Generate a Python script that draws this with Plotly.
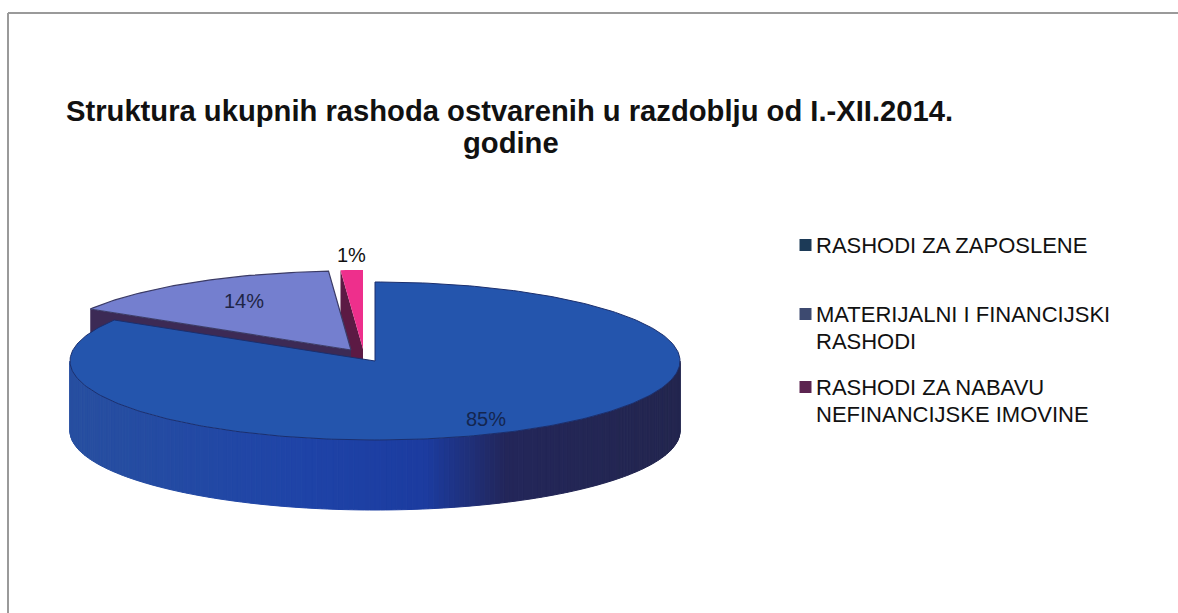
import math
import plotly.graph_objects as go

# ---- data ----
categories = [["RASHODI ZA ZAPOSLENE"], ["MATERIJALNI I FINANCIJSKI", "RASHODI"], ["RASHODI ZA NABAVU", "NEFINANCIJSKE IMOVINE"]]
values = [85, 14, 1]
value_labels = ["85%", "14%", "1%"]
title_lines = ["Struktura ukupnih rashoda ostvarenih u razdoblju od I.-XII.2014.", "godine"]

# ---- styling / geometry of the tilted pie ----
W, H = 1178, 613
CX, CY, RX, RY, DEPTH = 375, 361, 305, 79, 70
WARP = 5.0
offsets = [(0, 0), (-24, -11), (-12, -12)]
face_colors = ["#2455ad", "#747fcf", "#ee2f8c"]
wall_colors = ["#23264f", "#3c2a55", "#5c1a44"]
legend_colors = ["#1c3a57", "#3d4a70", "#5c2450"]
legend_y = [245, 314, 387]
LEGEND_LINE = 27
label_pos = [(486, 419), (244, 301), (351, 255)]
title_pos = [(509, 111), (511, 143)]


def phi(theta):
    return theta + WARP * math.sin(math.radians(2 * theta))


def pt(angle, off, drop=0):
    a = math.radians(angle)
    return CX + off[0] + RX * math.sin(a), CY + off[1] - RY * math.cos(a) + drop


def wedge(a0, a1, off):
    n = max(2, int(abs(a1 - a0)))
    xs, ys = [CX + off[0]], [CY + off[1]]
    for i in range(n + 1):
        x, y = pt(a0 + (a1 - a0) * i / n, off)
        xs.append(x)
        ys.append(y)
    xs.append(xs[0])
    ys.append(ys[0])
    return xs, ys


def poly(xs, ys, fill, line=None, width=0):
    return go.Scatter(x=xs, y=ys, mode="lines", fill="toself", fillcolor=fill,
                      line=dict(color=line or fill, width=width), hoverinfo="skip", showlegend=False)


def lerp_color(x):
    stops = [(70, (40, 80, 160)), (300, (31, 68, 168)), (425, (28, 60, 160)), (505, (35, 38, 90)), (680, (35, 38, 79))]
    for (x0, c0), (x1, c1) in zip(stops, stops[1:]):
        if x <= x1:
            t = max(0, (x - x0) / (x1 - x0))
            return "rgb(%d,%d,%d)" % tuple(c0[i] + (c1[i] - c0[i]) * t for i in range(3))
    return "rgb(35,38,79)"


total = sum(values)
spans = []
acc = 0
for v in values:
    spans.append((phi(acc / total * 360), phi((acc + v) / total * 360)))
    acc += v

fig = go.Figure()

# back slices: radial cut wall, then face
for idx in (2, 1):
    a0, a1 = spans[idx]
    off = offsets[idx]
    ox, oy = pt(a0, off)
    ax, ay = CX + off[0], CY + off[1]
    fig.add_trace(poly([ax, ox, ox, ax, ax], [ay, oy, oy + DEPTH, ay + DEPTH, ay], wall_colors[idx]))
    xs, ys = wedge(a0, a1, off)
    fig.add_trace(poly(xs, ys, face_colors[idx], "#3b3b66" if idx == 1 else face_colors[idx], 1.2 if idx == 1 else 0))

# main slice: curved wall in strips, then face
a0, a1 = spans[0]
step = 1.0
ang = 90.0
while ang < 270.0:
    x0, y0 = pt(ang, offsets[0])
    x1, y1 = pt(ang + step, offsets[0])
    col = lerp_color((x0 + x1) / 2)
    fig.add_trace(poly([x0, x1, x1, x0, x0], [y0, y1, y1 + DEPTH, y0 + DEPTH, y0], col, col, 1))
    ang += step
xs, ys = wedge(a0, a1, offsets[0])
fig.add_trace(poly(xs, ys, face_colors[0], "#1b2f6e", 1))

# slice value labels
for lab, (lx, ly), col in zip(value_labels, label_pos, ["#14264f", "#1e2545", "#111111"]):
    fig.add_annotation(x=lx, y=ly, text=lab, showarrow=False, font=dict(size=20, color=col, family="Liberation Sans"))

# legend: swatches and text
fig.add_trace(go.Scatter(x=[805.5] * 3, y=legend_y, mode="markers", showlegend=False, hoverinfo="skip",
                         marker=dict(symbol="square", size=12, color=legend_colors)))
for lines, y in zip(categories, legend_y):
    for i, line in enumerate(lines):
        fig.add_annotation(x=814, y=y + i * LEGEND_LINE, text=line, showarrow=False, xanchor="left", yanchor="middle",
                           font=dict(size=22, color="#111111", family="Liberation Sans"))

# title
for line, (tx, ty) in zip(title_lines, title_pos):
    fig.add_annotation(x=tx, y=ty, text="<b>" + line + "</b>", showarrow=False,
                       font=dict(size=29.2, color="#111111", family="Liberation Sans"))

fig.update_layout(
    width=W, height=H, margin=dict(l=0, r=0, t=0, b=0),
    paper_bgcolor="white", plot_bgcolor="white", showlegend=False,
    xaxis=dict(range=[0, W], visible=False, fixedrange=True),
    yaxis=dict(range=[H, 0], visible=False, fixedrange=True),
    shapes=[
        dict(type="line", x0=8, x1=W, y0=13, y1=13, line=dict(color="#9a9a9a", width=2)),
        dict(type="line", x0=8, x1=8, y0=13, y1=H, line=dict(color="#9a9a9a", width=2)),
    ],
)
fig.write_html("out.html", config={"displayModeBar": False},
               post_script="document.body.style.margin='0';document.documentElement.style.overflow='hidden';")
